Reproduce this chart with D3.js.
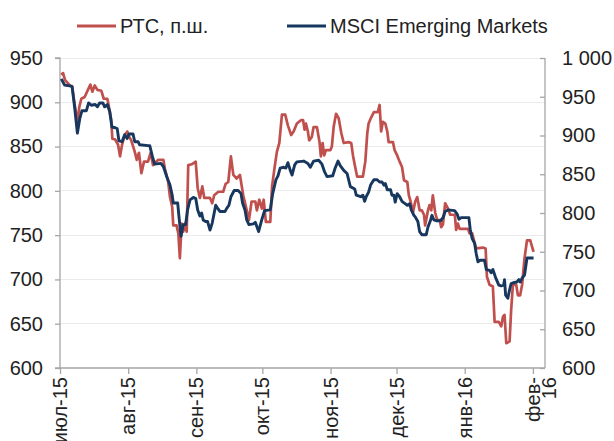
<!DOCTYPE html>
<html><head><meta charset="utf-8">
<script src="https://cdn.jsdelivr.net/npm/d3@7"></script>
<style>body{margin:0;background:#fff}svg{display:block}</style>
</head><body><svg id="c" width="614" height="441"></svg>
<script>
// ---- data ----
const seriesNames = ["РТС, п.ш.", "MSCI Emerging Markets"];
const monthLabels = [["июл-15"],["авг-15"],["сен-15"],["окт-15"],["ноя-15"],["дек-15"],["янв-16"],["фев-","16"]];
const leftTicks = [600,650,700,750,800,850,900,950];
const rightTicks = [600,650,700,750,800,850,900,950,1000];
// days since 1 Jul 2015
const rtsDays = [0.6,1.4,2.3,4.5,5.5,6.7,7.9,8.8,9.7,11.2,12.7,13.8,14.7,15.8,17.0,18.8,19.9,21.5,22.1,23.3,23.8,25.1,26.4,27.3,28.2,29.4,30.6,31.4,32.4,34.0,34.9,35.9,37.0,38.2,40.0,41.2,42.3,43.8,44.7,47.0,47.7,49.2,50.0,51.0,51.5,53.0,53.8,54.5,55.3,56.0,56.8,57.6,58.3,59.9,61.7,62.6,63.6,64.7,65.6,68.2,69.2,70.1,72.0,74.2,75.3,76.5,77.7,78.8,80.3,81.8,83.3,84.9,85.9,87.1,88.8,89.5,90.6,91.8,92.6,93.6,95.6,96.4,97.6,98.6,99.7,100.9,102.4,103.6,105.1,106.2,107.7,109.7,110.5,111.2,111.8,112.7,113.3,114.5,115.3,116.8,118.0,118.6,119.4,120.1,120.9,122.9,123.6,124.4,125.5,126.7,127.9,129.0,131.2,132.4,133.2,134.2,135.1,137.7,138.8,139.7,140.3,141.5,142.7,144.5,145.3,146.0,146.8,147.9,148.8,149.4,151.4,152.1,153.3,154.4,155.5,156.4,157.9,158.6,159.4,160.5,161.5,162.4,163.5,164.5,165.5,166.0,167.3,168.0,168.8,169.5,170.6,171.5,172.6,173.3,174.1,175.1,176.4,177.4,179.5,180.1,180.9,181.7,185.5,186.2,187.4,188.5,189.2,192.3,193.5,194.1,195.3,196.8,197.6,199.5,200.6,201.4,202.1,202.9,204.4,205.1,205.9,207.4,208.2,209.2,210.1,211.2,212.3,213.8,215.3];
const rtsValues = [931,933,925,919,918,897,878,895,904,906,914,920,912,919,914,913,904,904,897,880,859,858,852,839,852,863,867,861,857,844,835,843,820,833,833,843,829,833,835,835,825,810,793,782,761,761,752,724,763,754,763,754,829,830,833,803,792,805,792,792,786,795,799,799,808,810,839,818,814,818,795,778,767,788,788,778,790,780,790,765,765,805,827,844,854,886,886,874,863,867,876,880,880,869,876,867,857,861,872,872,855,839,854,840,846,846,850,872,887,882,865,854,855,854,840,827,816,816,833,865,876,883,889,889,897,867,878,876,867,855,855,846,840,833,827,812,810,795,788,776,788,793,778,778,773,761,778,784,778,795,775,767,767,759,762,786,780,773,773,756,763,757,757,752,752,741,735,736,735,703,694,692,652,652,647,658,660,628,630,665,694,694,682,682,694,724,744,744,731];
const msciDays = [0.6,2.1,4.4,5.5,6.7,7.9,9.0,10.0,12.0,13.0,14.2,16.0,17.0,18.0,19.5,20.3,21.5,22.6,23.6,25.1,26.0,26.8,28.2,29.4,30.5,31.4,33.2,34.0,35.5,36.2,40.0,40.8,42.0,43.0,45.9,47.0,48.5,50.0,51.0,51.5,53.5,54.1,55.0,56.0,57.1,58.0,59.1,60.6,61.7,62.6,63.6,64.4,65.1,66.2,67.1,68.2,69.2,70.1,70.8,71.7,72.7,75.0,75.8,76.8,77.7,79.2,81.0,82.3,83.0,84.1,84.9,85.9,87.9,88.8,90.3,91.5,93.0,95.6,96.7,98.2,99.1,100.1,101.7,102.7,103.6,104.7,105.5,106.7,107.7,110.8,112.7,113.8,115.3,117.6,119.1,120.3,121.4,124.0,125.1,126.4,127.4,129.0,130.5,132.0,134.0,134.7,136.7,137.7,138.5,139.2,140.3,141.2,142.7,144.2,145.3,146.4,147.3,147.9,148.8,150.3,150.9,151.8,152.4,153.3,154.4,155.5,156.4,157.9,159.0,159.7,160.9,161.5,162.7,163.5,164.5,166.5,167.3,168.5,169.1,170.0,171.0,173.0,174.1,175.1,176.4,179.4,180.5,181.4,182.4,185.9,186.5,187.4,188.5,189.2,190.0,191.0,193.0,193.8,195.3,196.0,196.8,198.0,199.5,200.6,201.7,202.1,202.6,203.6,204.4,205.1,206.2,207.7,208.6,209.2,210.1,211.2,212.3,215.3];
const msciValues = [973,965,964,963,935,903,922,932,932,942,939,940,937,942,942,937,940,931,911,910,909,893,892,901,896,902,902,892,892,888,887,887,873,863,864,860,847,836,823,813,813,795,770,785,785,804,817,820,819,804,796,800,791,789,789,778,787,800,810,806,802,802,806,810,821,829,829,825,813,804,791,785,786,788,776,789,803,804,825,843,848,858,859,858,865,855,849,862,866,867,864,859,867,868,863,853,847,848,858,867,861,855,851,834,831,823,821,823,815,821,827,836,843,843,840,840,836,838,830,830,823,823,814,825,821,815,813,810,812,804,797,795,789,776,772,772,782,791,797,791,790,790,794,802,804,803,799,792,794,794,779,767,761,748,737,739,739,727,726,723,727,717,707,706,707,714,694,690,701,709,710,711,714,711,716,720,742,742];

// ---- layout ----
const L = 60, R = 545, T = 58, B = 368;
const font = "'Liberation Sans', Arial, sans-serif";
const fs = 20;
const textCol = "#222222", axisCol = "#a6a6a6", gridCol = "#ebebeb";
const red = "#c0504d", blue = "#17375e";

const svg = d3.select("#c");
const start = new Date(2015, 6, 1);
const toDate = d => new Date(start.getTime() + d * 864e5);

const x = d3.scaleTime().domain([start, new Date(2016, 1, 6, 12)]).range([L, R]);
const yL = d3.scaleLinear().domain([600, 950]).range([B, T]);
const yR = d3.scaleLinear().domain([600, 1000]).range([B, T]);

// grid
svg.append("g").selectAll("line").data(leftTicks.filter(v => v > 600)).join("line")
  .attr("x1", L).attr("x2", R).attr("y1", d => yL(d)).attr("y2", d => yL(d))
  .attr("stroke", gridCol).attr("stroke-width", 1).attr("shape-rendering", "crispEdges");

// left axis
const gL = svg.append("g").attr("transform", `translate(${L},0)`)
  .call(d3.axisLeft(yL).tickValues(leftTicks).tickSize(5).tickPadding(12).tickFormat(d3.format("d")));
// right axis (ticks inward)
const gR = svg.append("g").attr("transform", `translate(${R},0)`)
  .call(d3.axisLeft(yR).tickValues(rightTicks).tickSize(5).tickFormat(d => d3.format(",")(d).replace(",", " ")));
gR.selectAll("text").attr("x", 17).attr("text-anchor", "start");
// bottom axis
const monthTicks = d3.timeMonth.range(start, new Date(2016, 1, 2));
const gB = svg.append("g").attr("transform", `translate(0,${B})`)
  .call(d3.axisBottom(x).tickValues(monthTicks).tickSize(6).tickFormat(""));

[gL, gR, gB].forEach(g => {
  g.select(".domain").attr("stroke", axisCol).attr("stroke-width", 1.3);
  g.selectAll(".tick line").attr("stroke", axisCol).attr("stroke-width", 1.3);
  g.selectAll("text").attr("font-family", font).attr("font-size", fs).attr("fill", textCol);
});
gB.select(".domain").attr("d", `M${L},0H${R}`);
gL.select(".domain").attr("d", `M-5,${T}H0V${B}H-5`);
gR.select(".domain").attr("d", `M0,${T}V${B}`);

// month labels, rotated
const lab = svg.append("g");
monthTicks.forEach((m, i) => {
  const lines = monthLabels[i];
  const t = lab.append("text")
    .attr("transform", `translate(${x(m)},${B + 9}) rotate(-90)`)
    .attr("text-anchor", "end").attr("font-family", font).attr("font-size", fs).attr("fill", textCol);
  lines.forEach((s, j) => t.append("tspan").attr("x", 0).attr("dy", j === 0 ? "0.35em" : "0.8em").text(s));
});

// lines
const rts = rtsDays.map((d, i) => ({ date: toDate(d), v: rtsValues[i] }));
const msci = msciDays.map((d, i) => ({ date: toDate(d), v: msciValues[i] }));
svg.append("path").datum(rts).attr("fill", "none").attr("stroke", red).attr("stroke-width", 2.7)
  .attr("stroke-linejoin", "round")
  .attr("d", d3.line().x(d => x(d.date)).y(d => yL(d.v)));
svg.append("path").datum(msci).attr("fill", "none").attr("stroke", blue).attr("stroke-width", 2.9)
  .attr("stroke-linejoin", "round")
  .attr("d", d3.line().x(d => x(d.date)).y(d => yR(d.v)));

// legend
const leg = [{ name: seriesNames[0], col: red, x: 77 }, { name: seriesNames[1], col: blue, x: 287 }];
const lg = svg.append("g");
leg.forEach(l => {
  lg.append("line").attr("x1", l.x).attr("x2", l.x + 39).attr("y1", 26).attr("y2", 26)
    .attr("stroke", l.col).attr("stroke-width", 2.9);
  lg.append("text").attr("x", l.x + 43).attr("y", 26).attr("dy", "0.35em")
    .attr("font-family", font).attr("font-size", fs).attr("fill", textCol).text(l.name);
});
</script></body></html>
